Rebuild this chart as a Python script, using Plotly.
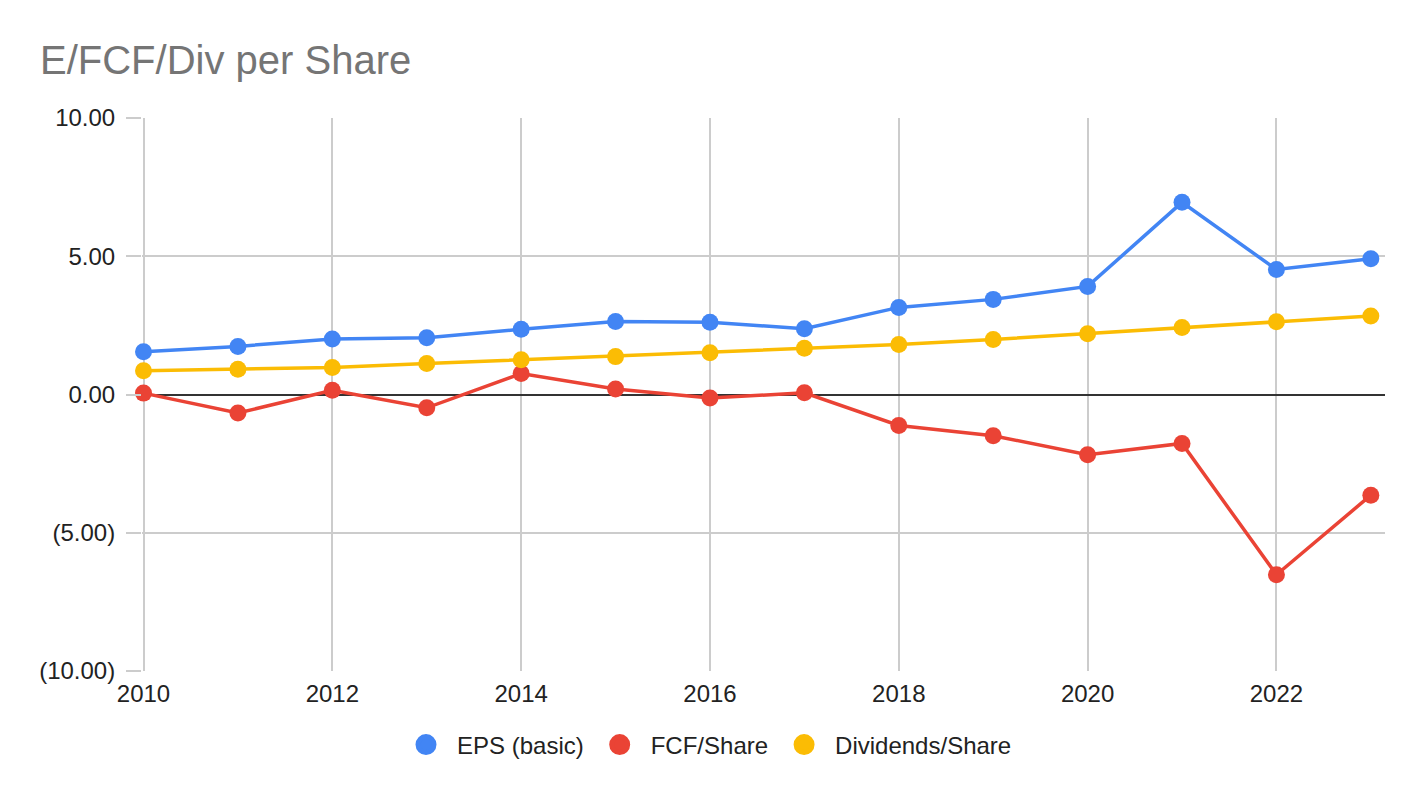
import plotly.graph_objects as go

# Datos
years = list(range(2010, 2024))
eps_basic = [1.55, 1.74, 2.01, 2.05, 2.36, 2.64, 2.61, 2.38, 3.15, 3.44, 3.91, 6.95, 4.52, 4.91]
fcf_share = [0.05, -0.67, 0.15, -0.48, 0.76, 0.20, -0.13, 0.06, -1.12, -1.49, -2.18, -1.77, -6.52, -3.64]
div_share = [0.86, 0.91, 0.98, 1.12, 1.26, 1.37, 1.51, 1.67, 1.81, 1.99, 2.20, 2.42, 2.63, 2.84]

y_ticks = [-10, -5, 0, 5, 10]
y_ticktext = ["(10.00)", "(5.00)", "0.00", "5.00", "10.00"]
x_ticks = [2010, 2012, 2014, 2016, 2018, 2020, 2022]

series = [
    ("EPS (basic)", eps_basic, "#4285F4"),
    ("FCF/Share", fcf_share, "#EA4335"),
    ("Dividends/Share", div_share, "#FBBC04"),
]

# La página tiene un margen de 8 px en el body
W, H, OFF = 1424, 798, 8

fig = go.Figure()

# Líneas con marcadores
for name, vals, color in series:
    fig.add_trace(go.Scatter(
        x=years, y=vals, mode='lines+markers', name=name,
        line=dict(color=color, width=3.5),
        marker=dict(color=color, size=17),
        cliponaxis=False, showlegend=False
    ))

# Entradas de leyenda (solo círculo)
for name, vals, color in series:
    fig.add_trace(go.Scatter(
        x=[None], y=[None], mode='markers', name=name,
        marker=dict(color=color, size=16, line=dict(color=color, width=5))
    ))

fig.update_layout(
    width=W, height=H,
    paper_bgcolor='white', plot_bgcolor='white',
    font=dict(family="Arial, Liberation Sans, sans-serif", size=24, color="#222222"),
    title=dict(
        text="E/FCF/Div per Share",
        font=dict(size=40, color="#757575"),
        x=(40 - OFF) / W, xanchor='left', xref='container',
        y=1 - (60 - OFF) / H, yanchor='middle', yref='container'
    ),
    margin=dict(l=142 - OFF, r=39 + OFF, t=118 - OFF, b=127 + OFF),
    xaxis=dict(
        range=[2009.984, 2023.15],  # un poco antes de 2010 para que se vea la rejilla de 2010
        tickvals=x_ticks,
        showgrid=True, gridcolor="#cccccc", gridwidth=1.5,
        zeroline=False, showline=False, ticks='',
        ticklabelstandoff=6,
        tickfont=dict(size=24, color="#222222")
    ),
    yaxis=dict(
        range=[-10, 10],
        tickvals=y_ticks, ticktext=y_ticktext,
        showgrid=True, gridcolor="#cccccc", gridwidth=1.5,
        zeroline=True, zerolinecolor="#333333", zerolinewidth=1.5,
        ticks='outside', ticklen=15, tickcolor="#cccccc", tickwidth=1.5,
        ticklabelstandoff=6,
        tickfont=dict(size=24, color="#222222")
    ),
    legend=dict(
        orientation='h', xref='container', x=(706 - OFF) / W, xanchor='center',
        yref='container', y=1 - (745 - OFF) / H, yanchor='middle',
        font=dict(size=24, color="#222222"),
        itemsizing='trace', itemwidth=52
    ),
    showlegend=True
)

fig.write_html("out.html")
